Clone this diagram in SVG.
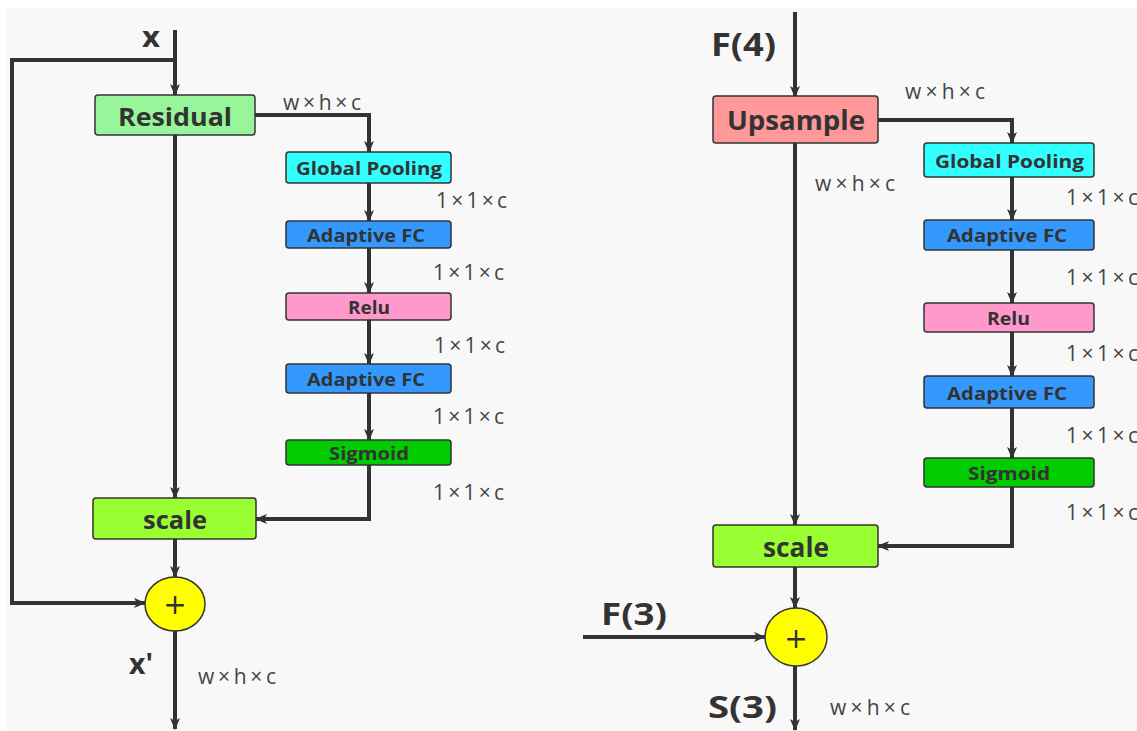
<svg xmlns="http://www.w3.org/2000/svg" width="1137" height="731" viewBox="0 0 1137 731">
<defs>
<marker id="ah" markerWidth="12" markerHeight="12" viewBox="0 0 12 12" refX="11" refY="6" orient="auto" markerUnits="userSpaceOnUse">
<path d="M0,1 L12,6 L0,11 L3,6 Z" fill="#333"/>
</marker>
<style>
.ln{fill:none;stroke:#333;stroke-width:4;stroke-linejoin:miter}
.bx{stroke:#333;stroke-width:1.5}
.t{font-family:"Open Sans","Noto Sans",sans-serif;font-weight:bold;fill:#333}
.d{font-family:"Open Sans","Noto Sans",sans-serif;fill:#444;font-size:21px}
.lb{font-family:"Open Sans","Noto Sans",sans-serif;font-weight:bold;fill:#333}
</style>
</defs>
<rect x="0" y="0" width="1137" height="731" fill="#ffffff"/>
<rect x="7" y="8" width="1130" height="723" fill="#f8f8f8"/>

<g id="connectors">
<path class="ln" d="M175,30 V95" marker-end="url(#ah)"/>
<path class="ln" d="M177,60 H12 V603 H145" marker-end="url(#ah)"/>
<path class="ln" d="M255,115 H369 V152" marker-end="url(#ah)"/>
<path class="ln" d="M175,135 V498" marker-end="url(#ah)"/>
<path class="ln" d="M369,183 V221" marker-end="url(#ah)"/>
<path class="ln" d="M369,248 V293" marker-end="url(#ah)"/>
<path class="ln" d="M369,320 V364" marker-end="url(#ah)"/>
<path class="ln" d="M369,393 V440" marker-end="url(#ah)"/>
<path class="ln" d="M369,465 V519 H256" marker-end="url(#ah)"/>
<path class="ln" d="M175,539 V577" marker-end="url(#ah)"/>
<path class="ln" d="M175,631 V729" marker-end="url(#ah)"/>
<path class="ln" d="M795,12 V97" marker-end="url(#ah)"/>
<path class="ln" d="M878,120 H1012 V143" marker-end="url(#ah)"/>
<path class="ln" d="M795,143 V525" marker-end="url(#ah)"/>
<path class="ln" d="M1012,177 V220" marker-end="url(#ah)"/>
<path class="ln" d="M1012,250 V303" marker-end="url(#ah)"/>
<path class="ln" d="M1012,332 V376" marker-end="url(#ah)"/>
<path class="ln" d="M1012,408 V458" marker-end="url(#ah)"/>
<path class="ln" d="M1012,487 V546 H878" marker-end="url(#ah)"/>
<path class="ln" d="M795,567 V608" marker-end="url(#ah)"/>
<path class="ln" d="M583,637 H765" marker-end="url(#ah)"/>
<path class="ln" d="M795,666 V730" marker-end="url(#ah)"/>
</g>

<g id="left-residual"><rect class="bx" x="95" y="95" width="160" height="40" rx="3" fill="#99f599"/><text class="t" x="118" y="126" font-size="25" textLength="114" lengthAdjust="spacingAndGlyphs">Residual</text></g>
<g id="left-gp"><rect class="bx" x="286" y="152" width="165" height="31" rx="3" fill="#33ffff"/><text class="t" x="296" y="175" font-size="17" textLength="146" lengthAdjust="spacingAndGlyphs">Global Pooling</text></g>
<g id="left-fc1"><rect class="bx" x="286" y="221" width="165" height="27" rx="3" fill="#3399ff"/><text class="t" x="307" y="242" font-size="17" textLength="118" lengthAdjust="spacingAndGlyphs">Adaptive FC</text></g>
<g id="left-relu"><rect class="bx" x="286" y="293" width="165" height="27" rx="3" fill="#ff99cc"/><text class="t" x="348" y="314" font-size="17" textLength="42" lengthAdjust="spacingAndGlyphs">Relu</text></g>
<g id="left-fc2"><rect class="bx" x="286" y="364" width="165" height="29" rx="3" fill="#3399ff"/><text class="t" x="307" y="386" font-size="17" textLength="118" lengthAdjust="spacingAndGlyphs">Adaptive FC</text></g>
<g id="left-sig"><rect class="bx" x="286" y="440" width="165" height="25" rx="3" fill="#00cc00"/><text class="t" x="329" y="460" font-size="17" textLength="80" lengthAdjust="spacingAndGlyphs">Sigmoid</text></g>
<g id="left-scale"><rect class="bx" x="93" y="498" width="163" height="41" rx="3" fill="#99ff33"/><text class="t" x="143" y="529" font-size="25" textLength="64" lengthAdjust="spacingAndGlyphs">scale</text></g>
<g id="left-plus"><ellipse class="bx" cx="175" cy="604" rx="30" ry="27" fill="#ffff00"/><text x="175" y="614" font-family="'DejaVu Sans',sans-serif" font-size="28" fill="#333" text-anchor="middle">+</text></g>

<g id="right-up"><rect class="bx" x="713" y="96" width="165" height="47" rx="3" fill="#ff9999"/><text class="t" x="727" y="130" font-size="26" textLength="138" lengthAdjust="spacingAndGlyphs">Upsample</text></g>
<g id="right-gp"><rect class="bx" x="924" y="143" width="170" height="34" rx="3" fill="#33ffff"/><text class="t" x="935" y="168" font-size="18" textLength="149" lengthAdjust="spacingAndGlyphs">Global Pooling</text></g>
<g id="right-fc1"><rect class="bx" x="924" y="220" width="170" height="30" rx="3" fill="#3399ff"/><text class="t" x="947" y="242" font-size="18" textLength="120" lengthAdjust="spacingAndGlyphs">Adaptive FC</text></g>
<g id="right-relu"><rect class="bx" x="924" y="303" width="170" height="29" rx="3" fill="#ff99cc"/><text class="t" x="987" y="325" font-size="18" textLength="43" lengthAdjust="spacingAndGlyphs">Relu</text></g>
<g id="right-fc2"><rect class="bx" x="924" y="376" width="170" height="32" rx="3" fill="#3399ff"/><text class="t" x="947" y="400" font-size="18" textLength="120" lengthAdjust="spacingAndGlyphs">Adaptive FC</text></g>
<g id="right-sig"><rect class="bx" x="924" y="458" width="170" height="29" rx="3" fill="#00cc00"/><text class="t" x="968" y="480" font-size="18" textLength="82" lengthAdjust="spacingAndGlyphs">Sigmoid</text></g>
<g id="right-scale"><rect class="bx" x="713" y="525" width="165" height="42" rx="3" fill="#99ff33"/><text class="t" x="763" y="557" font-size="26" textLength="66" lengthAdjust="spacingAndGlyphs">scale</text></g>
<g id="right-plus"><ellipse class="bx" cx="796" cy="637" rx="31" ry="29" fill="#ffff00"/><text x="796" y="648" font-family="'DejaVu Sans',sans-serif" font-size="28" fill="#333" text-anchor="middle">+</text></g>

<g id="labels">
<text class="lb" x="142" y="47" font-size="28" textLength="18" lengthAdjust="spacingAndGlyphs">x</text>
<text class="lb" x="129" y="674" font-size="28" textLength="24" lengthAdjust="spacingAndGlyphs">x'</text>
<text class="d" x="283" y="110" font-size="19" textLength="78">w×h×c</text>
<text class="d" x="436" y="208" textLength="71">1×1×c</text>
<text class="d" x="433" y="280" textLength="71">1×1×c</text>
<text class="d" x="434" y="353" textLength="71">1×1×c</text>
<text class="d" x="433" y="424" textLength="71">1×1×c</text>
<text class="d" x="433" y="500" textLength="71">1×1×c</text>
<text class="d" x="198" y="684" font-size="19" textLength="78">w×h×c</text>
<text class="lb" x="711" y="56" font-size="32" textLength="65" lengthAdjust="spacingAndGlyphs">F(4)</text>
<text class="d" x="905" y="99" textLength="80">w×h×c</text>
<text class="d" x="815" y="191" textLength="80">w×h×c</text>
<text class="d" x="1066" y="205" textLength="72">1×1×c</text>
<text class="d" x="1066" y="285" textLength="72">1×1×c</text>
<text class="d" x="1066" y="361" textLength="72">1×1×c</text>
<text class="d" x="1066" y="443" textLength="72">1×1×c</text>
<text class="d" x="1066" y="520" textLength="72">1×1×c</text>
<text class="lb" x="601" y="625" font-size="31" textLength="66" lengthAdjust="spacingAndGlyphs">F(3)</text>
<text class="lb" x="708" y="718" font-size="31" textLength="69" lengthAdjust="spacingAndGlyphs">S(3)</text>
<text class="d" x="830" y="715" textLength="80">w×h×c</text>
</g>
</svg>
